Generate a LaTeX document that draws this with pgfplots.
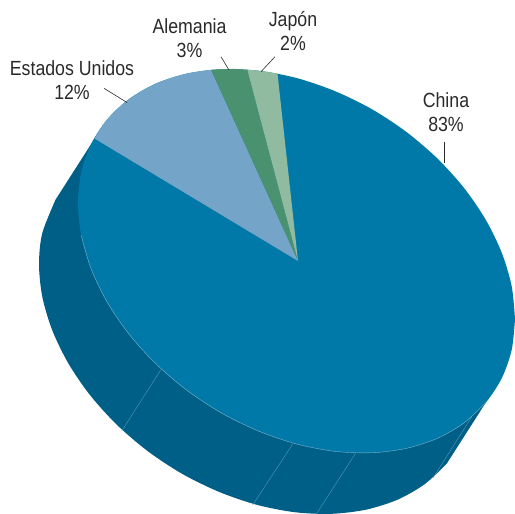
\documentclass[border=0pt]{standalone}
\usepackage{pgfplots}
\pgfplotsset{compat=1.18}
\usepackage{fontspec}
\setmainfont[FakeStretch=0.865]{Liberation Sans}
\definecolor{cn}{HTML}{0079A9}
\definecolor{side}{HTML}{005F87}
\definecolor{us}{HTML}{74A5C9}
\definecolor{de}{HTML}{4A9170}
\definecolor{jp}{HTML}{90BBA0}
\definecolor{seam}{HTML}{5F9AB5}
\definecolor{edge}{HTML}{7DB2CC}
\definecolor{txt}{HTML}{2A2A2A}
\begin{document}
\begin{tikzpicture}
\useasboundingbox (0,0) rectangle (515pt,514pt);
\begin{axis}[
  at={(0,0)}, anchor=south west,
  scale only axis, width=515pt, height=514pt,
  xmin=0, xmax=515, ymin=0, ymax=514, y dir=reverse,
  hide axis, clip=true, no markers,
  every axis plot/.append style={line join=round},
]
% side
\addplot[fill=side, draw=none, smooth] coordinates {
(446.7,463.7)(424.9,484)(398,499.5)(366.8,509.5)(332.2,513.8)(295.4,512.3)(257.5,505)(219.6,492.1)(182.8,474.2)(148.2,451.5)(117,424.9)(90.1,395.2)(68.3,363.3)(52.2,330.1)(42.3,296.7)(39,264)(42.3,233.1)(55.6,199.6)};
\addplot[fill=side, draw=none] coordinates {(94.6,138.6)(55.6,199.6)(60,270)(120,400)(300,490)(446.7,463.7)(485.7,402.7)};
% seams
\addplot[color=seam, line width=0.35pt] coordinates {(160.7,370)(121.7,431)};
\addplot[color=seam, line width=0.35pt] coordinates {(292.7,444)(252.7,505)};
\addplot[color=seam, line width=0.35pt] coordinates {(356,452.6)(317,513)};
\addplot[color=seam, line width=0.35pt] coordinates {(471.7,417)(433,478)};
% top disc
\addplot[fill=cn, draw=none, smooth] coordinates {
(515,319)(511.7,349.9)(501.8,378.1)(485.7,402.7)(463.9,423)(437,438.5)(405.8,448.5)(371.2,452.8)(334.4,451.3)(296.5,444)(258.6,431.1)(221.8,413.2)(187.2,390.5)(156,363.9)(129.1,334.2)(107.3,302.3)(91.2,269.1)(81.3,235.7)(78,203)(81.3,172.1)(91.2,143.9)(107.3,119.3)(129.1,99)(156,83.5)(187.2,73.5)(221.8,69.2)(258.6,70.7)(296.5,78)(334.4,90.9)(371.2,108.8)(405.8,131.5)(437,158.1)(463.9,187.8)(485.7,219.7)(501.8,252.9)(511.7,286.3)(515,319)};
% light rim on the lower edge
\addplot[color=edge, line width=0.4pt, smooth] coordinates {
(485.7,402.7)(463.9,423)(437,438.5)(405.8,448.5)(371.2,452.8)(334.4,451.3)(296.5,444)(258.6,431.1)(221.8,413.2)(187.2,390.5)(156,363.9)(129.1,334.2)(107.3,302.3)(91.2,269.1)(81.3,235.7)};
% wedges
\addplot[fill=us, draw=none] coordinates {(298,261)(94.6,138.6)(98.5,131.1)(107.3,119.3)(117.5,108.5)(129.1,99)(142,90.6)(156,83.5)(171.2,77.8)(187.2,73.5)(204.2,70.6)(211.1,69.8)};
\addplot[fill=de, draw=none] coordinates {(298,261)(211.1,69.8)(221.8,69.2)(234,68.9)(247.3,69.7)};
\addplot[fill=jp, draw=none] coordinates {(298,261)(247.3,69.7)(258.6,70.7)(268,72)(277.5,73.6)};
% leaders
\addplot[color=txt, line width=0.6pt] coordinates {(104,88.3)(127,102.5)};
\addplot[color=txt, line width=0.6pt] coordinates {(221,56.7)(229,70)};
\addplot[color=txt, line width=0.6pt] coordinates {(275,56.7)(261,71.7)};
\addplot[color=txt, line width=0.6pt] coordinates {(444.3,142.3)(444.3,163.3)};
% labels
\node[font=\fontsize{20.5pt}{24pt}\selectfont, text=txt, align=center, inner sep=0pt] at (axis cs:72,80) {Estados Unidos\\12\%};
\node[font=\fontsize{20.5pt}{24pt}\selectfont, text=txt, align=center, inner sep=0pt] at (axis cs:189.5,38) {Alemania\\3\%};
\node[font=\fontsize{20.5pt}{24pt}\selectfont, text=txt, align=center, inner sep=0pt] at (axis cs:293,31.5) {Japón\\2\%};
\node[font=\fontsize{20.5pt}{24pt}\selectfont, text=txt, align=center, inner sep=0pt] at (axis cs:446,112) {China\\83\%};
\end{axis}
\end{tikzpicture}
\end{document}
